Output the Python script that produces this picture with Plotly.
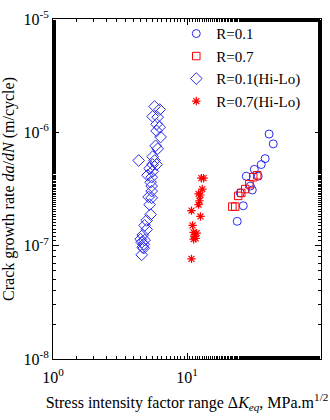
import plotly.graph_objects as go

# R=0.1
r01_dk = [41.0, 44.0, 38.3, 35.8, 31.8, 27.7, 34.0, 29.7, 30.7, 25.0, 26.3, 23.7]
r01_rate = [9.66e-7, 7.91e-7, 5.86e-7, 5.20e-7, 4.71e-7, 4.10e-7, 4.10e-7, 3.36e-7, 3.10e-7, 2.92e-7, 2.25e-7, 1.64e-7]
# R=0.7
r07_dk = [33.4, 31.2, 29.2, 27.2, 25.4, 24.1, 22.9, 21.8]
r07_rate = [4.18e-7, 4.02e-7, 3.49e-7, 3.16e-7, 2.92e-7, 2.75e-7, 2.21e-7, 2.21e-7]
# R=0.1 (Hi-Lo)
hl01_dk = [5.73, 6.25, 5.54, 6.04, 5.93, 6.25, 5.93, 6.35, 5.83, 6.04, 4.36, 5.54, 5.73, 5.54, 5.93,
           5.26, 5.54, 5.08, 5.45, 5.35, 5.45, 5.45, 5.17, 5.45, 5.26, 5.35, 5.00, 4.83, 5.00, 4.67,
           4.51, 4.83, 4.59, 4.75, 4.67, 4.75, 4.59]
hl01_rate = [1.69e-6, 1.59e-6, 1.38e-6, 1.36e-6, 1.18e-6, 1.11e-6, 1.03e-6, 9.1e-7, 7.6e-7, 7.16e-7,
             5.64e-7, 6.1e-7, 5.64e-7, 5.2e-7, 5.2e-7, 4.8e-7, 4.53e-7, 4.18e-7, 4.02e-7, 3.63e-7,
             3.36e-7, 3.03e-7, 2.69e-7, 2.64e-7, 2.30e-7, 1.88e-7, 1.67e-7, 1.51e-7, 1.39e-7, 1.24e-7,
             1.14e-7, 1.12e-7, 1.07e-7, 1.03e-7, 9.7e-8, 9.5e-8, 8.3e-8]
# R=0.7 (Hi-Lo)
hl07_dk = [12.8, 13.3, 13.0, 12.2, 12.6, 12.4, 12.2, 10.8, 12.6, 11.0, 11.2, 11.8, 11.4, 11.6, 11.2, 10.8]
hl07_rate = [3.94e-7, 3.94e-7, 3.16e-7, 2.86e-7, 2.80e-7, 2.49e-7, 2.30e-7, 2.04e-7, 1.81e-7, 1.51e-7,
             1.31e-7, 1.29e-7, 1.21e-7, 1.16e-7, 1.14e-7, 7.65e-8]

x_tickvals = [1, 10, 100]
x_ticktext = ["10<sup>0</sup>", "10<sup>1</sup>", "10<sup>2</sup>"]
y_tickvals = [1e-8, 1e-7, 1e-6, 1e-5]
y_ticktext = ["10<sup>-8</sup>", "10<sup>-7</sup>", "10<sup>-6</sup>", "10<sup>-5</sup>"]

BLUE = "#2a2af0"
RED = "#ff0000"
FONT = "Liberation Serif"

fig = go.Figure()
fig.add_trace(go.Scatter(x=r01_dk, y=r01_rate, mode="markers", name="R=0.1",
                         marker=dict(symbol="circle-open", size=8, color=BLUE, line=dict(width=1))))
fig.add_trace(go.Scatter(x=r07_dk, y=r07_rate, mode="markers", name="R=0.7",
                         marker=dict(symbol="square-open", size=7.5, color=RED, line=dict(width=1))))
fig.add_trace(go.Scatter(x=hl01_dk, y=hl01_rate, mode="markers", name="R=0.1(Hi-Lo)",
                         marker=dict(symbol="diamond-open", size=9, color=BLUE, line=dict(width=1))))
fig.add_trace(go.Scatter(x=hl07_dk, y=hl07_rate, mode="markers", name="R=0.7(Hi-Lo)",
                         marker=dict(symbol="asterisk-open", size=7, color=RED, line=dict(width=1.2, color=RED))))

axis_common = dict(
    type="log", showgrid=False, zeroline=False, showline=True, linecolor="black", linewidth=1,
    mirror="ticks", ticks="inside", ticklen=6, tickcolor="black", tickwidth=1,
    minor=dict(ticks="inside", ticklen=3, tickcolor="black", showgrid=False),
    tickfont=dict(family=FONT, size=16, color="black"),
)

fig.update_xaxes(range=[0, 2], tickvals=x_tickvals, ticktext=x_ticktext, ticklabelstandoff=4,
                 title=dict(text="Stress intensity factor range Δ<i>K</i><sub><i>eq</i></sub>, MPa.m<sup>1/2</sup>",
                            font=dict(family=FONT, size=16, color="black"), standoff=11),
                 **axis_common)
fig.update_yaxes(range=[-8, -5], tickvals=y_tickvals, ticktext=y_ticktext,
                 title=dict(text="Crack growth rate <i>da</i>/<i>dN</i> (m/cycle)",
                            font=dict(family=FONT, size=16, color="black"), standoff=4),
                 **axis_common)

fig.update_layout(
    width=330, height=420,
    margin=dict(l=53, r=8, t=13, b=61),
    paper_bgcolor="white", plot_bgcolor="white",
    font=dict(family=FONT, color="black"),
    showlegend=True,
    legend=dict(x=0.46, y=1.005, xanchor="left", yanchor="top", bgcolor="rgba(0,0,0,0)",
                font=dict(family=FONT, size=15, color="black"), tracegroupgap=0),
)

fig.write_html("out.html")
